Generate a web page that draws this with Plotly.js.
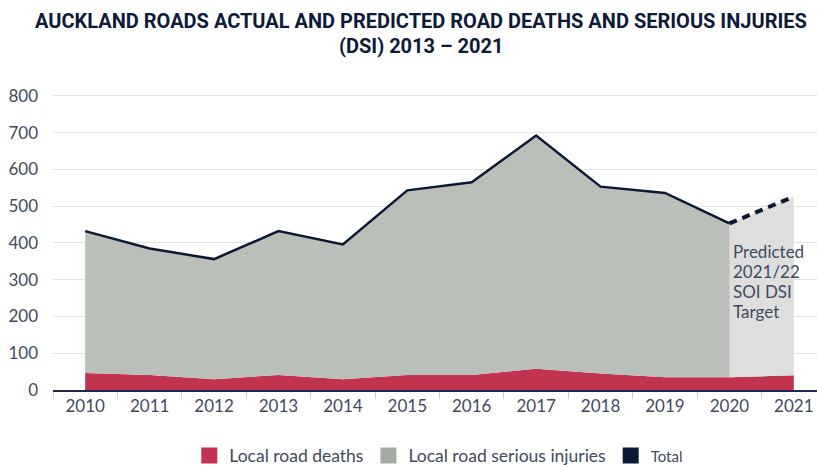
<!DOCTYPE html>
<html><head><meta charset="utf-8">
<script src="https://cdn.plot.ly/plotly-3.0.1.min.js"></script>
<style>html,body{margin:0;padding:0;background:#fff}#chart{width:817px;height:467px}</style>
</head><body><div id="chart"></div>
<script>
const years = ['2010','2011','2012','2013','2014','2015','2016','2017','2018','2019','2020','2021'];
const deaths = [46, 41, 29, 41, 29, 41, 41, 58, 45, 35, 35, 40];
const totals = [432, 385, 356, 432, 396, 543, 565, 692, 553, 536, 453, 526];
const actualCount = 11; // 2010-2020 actual, 2021 predicted
const titleLines = ['AUCKLAND ROADS ACTUAL AND PREDICTED ROAD DEATHS AND SERIOUS INJURIES', '(DSI) 2013 – 2021'];
const noteLines = ['Predicted', '2021/22', 'SOI DSI', 'Target'];

const red = '#c1334f', gray = '#bbbfb9', lightGray = '#dedede', navy = '#0b1836';
const textColor = '#3f4a5e';

const actYears = years.slice(0, actualCount);
const predYears = years.slice(actualCount - 1);

const traces = [
  {x: years, y: deaths, type: 'scatter', mode: 'lines', line: {width: 0, color: red},
   fill: 'tozeroy', fillcolor: red, showlegend: false, hoverinfo: 'skip'},
  {x: actYears, y: totals.slice(0, actualCount), type: 'scatter', mode: 'lines',
   line: {width: 0}, fill: 'tonexty', fillcolor: gray, showlegend: false, hoverinfo: 'skip'},
  {x: predYears, y: deaths.slice(actualCount - 1), type: 'scatter', mode: 'lines',
   line: {width: 0}, showlegend: false, hoverinfo: 'skip'},
  {x: predYears, y: totals.slice(actualCount - 1), type: 'scatter', mode: 'lines',
   line: {width: 0}, fill: 'tonexty', fillcolor: lightGray, showlegend: false, hoverinfo: 'skip'},
  {x: actYears, y: totals.slice(0, actualCount), type: 'scatter', mode: 'lines',
   line: {width: 2.5, color: navy}, showlegend: false},
  {x: predYears, y: totals.slice(actualCount - 1), type: 'scatter', mode: 'lines',
   line: {width: 4, color: navy, dash: '8px,6px'}, showlegend: false},
  {x: [null], y: [null], type: 'scatter', mode: 'markers', name: 'Local road deaths',
   marker: {symbol: 'square', size: 16, color: red}},
  {x: [null], y: [null], type: 'scatter', mode: 'markers', name: 'Local road serious injuries',
   marker: {symbol: 'square', size: 16, color: '#a5aaa3'}},
  {x: [null], y: [null], type: 'scatter', mode: 'markers',
   name: '<span style="font-size:15px">Total</span>',
   marker: {symbol: 'square', size: 16, color: navy}}
];

const titleFont = {family: 'Roboto, sans-serif', size: 20, color: '#0d1a3a'};

const annotations = [
  {xref: 'paper', yref: 'paper', x: 0.4817, y: 1.2466, xanchor: 'center', yanchor: 'middle',
   showarrow: false, text: '<b>' + titleLines[0] + '</b>', font: titleFont},
  {xref: 'paper', yref: 'paper', x: 0.4817, y: 1.162, xanchor: 'center', yanchor: 'middle',
   showarrow: false, text: '<b>' + titleLines[1] + '</b>', font: titleFont}
];
noteLines.forEach((t, i) => annotations.push({
  x: 10, y: 412, xref: 'x', yref: 'y', xanchor: 'left', yanchor: 'top',
  xshift: 2, yshift: -20 * i, align: 'left', showarrow: false, text: t,
  font: {size: 17, color: textColor}
}));

const layout = {
  width: 817, height: 467,
  margin: {l: 53, r: 0, t: 94, b: 77, autoexpand: false},
  paper_bgcolor: '#fff', plot_bgcolor: '#fff',
  font: {family: 'Lato, "Open Sans", sans-serif', color: textColor, size: 17},
  xaxis: {type: 'category', categoryorder: 'array', categoryarray: years,
    range: [-0.5, 11.36], tickson: 'boundaries', ticks: 'outside', ticklen: 7,
    tickcolor: '#cccccc', tickwidth: 1, showgrid: false, showline: true,
    linecolor: '#1b2a4a', linewidth: 1.5, zeroline: false,
    tickfont: {size: 17, color: textColor}, fixedrange: true},
  yaxis: {range: [0, 805], tickvals: [0,100,200,300,400,500,600,700,800],
    showgrid: true, gridcolor: '#e2e2e2', gridwidth: 1, zeroline: false,
    ticks: '', ticklabelstandoff: 14, showline: false,
    tickfont: {size: 17, color: textColor}, fixedrange: true},
  legend: {orientation: 'h', x: 0.505, xanchor: 'center', y: -0.222, yanchor: 'middle',
    traceorder: 'normal', font: {size: 17.5, color: textColor}, itemsizing: 'trace'},
  annotations: annotations
};

Plotly.newPlot('chart', traces, layout, {displayModeBar: false, staticPlot: true});
</script></body></html>
